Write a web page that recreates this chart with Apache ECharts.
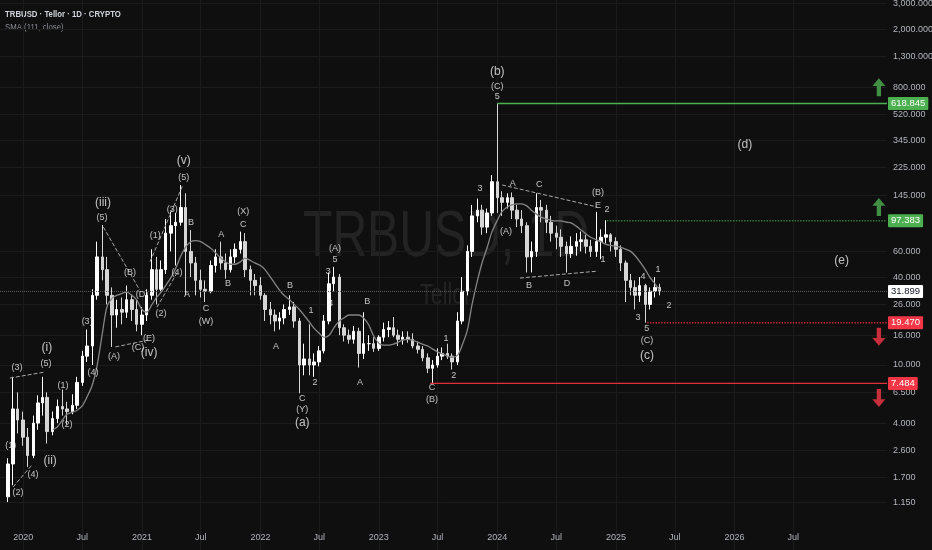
<!DOCTYPE html>
<html><head><meta charset="utf-8">
<script src="https://cdn.jsdelivr.net/npm/echarts@6/dist/echarts.min.js"></script>
<style>html,body{margin:0;padding:0;background:#0f0f0f}#c{width:932px;height:550px}</style>
</head><body><div id="c"></div>
<script>
const FONT = '"Liberation Sans",Arial,sans-serif';

const dates = ['2019-11-15','2019-12-01','2019-12-15',
'2020-01-01','2020-01-15','2020-02-01','2020-02-15','2020-03-01','2020-03-15','2020-04-01','2020-04-15','2020-05-01','2020-05-15','2020-06-01','2020-06-15','2020-07-01','2020-07-15','2020-08-01','2020-08-15','2020-09-01','2020-09-15','2020-10-01','2020-10-15','2020-11-01','2020-11-15','2020-12-01','2020-12-15',
'2021-01-01','2021-01-15','2021-02-01','2021-02-15','2021-03-01','2021-03-15','2021-04-01','2021-04-15','2021-05-01','2021-05-15','2021-06-01','2021-06-15','2021-07-01','2021-07-15','2021-08-01','2021-08-15','2021-09-01','2021-09-15','2021-10-01','2021-10-15','2021-11-01','2021-11-15','2021-12-01','2021-12-15',
'2022-01-01','2022-01-15','2022-02-01','2022-02-15','2022-03-01','2022-03-15','2022-04-01','2022-04-15','2022-05-01','2022-05-15','2022-06-01','2022-06-15','2022-07-01','2022-07-15','2022-08-01','2022-08-15','2022-09-01','2022-09-15','2022-10-01','2022-10-15','2022-11-01','2022-11-15','2022-12-01','2022-12-15',
'2023-01-01','2023-01-15','2023-02-01','2023-02-15','2023-03-01','2023-03-15','2023-04-01','2023-04-15','2023-05-01','2023-05-15','2023-06-01','2023-06-15','2023-07-01','2023-07-15','2023-08-01','2023-08-15','2023-09-01','2023-09-15','2023-10-01','2023-10-15','2023-11-01','2023-11-15','2023-12-01','2023-12-15',
'2024-01-01','2024-01-15','2024-02-01','2024-02-15','2024-03-01','2024-03-15','2024-04-01','2024-04-15','2024-05-01','2024-05-15','2024-06-01','2024-06-15','2024-07-01','2024-07-15','2024-08-01','2024-08-15','2024-09-01','2024-09-15','2024-10-01','2024-10-15','2024-11-01','2024-11-15','2024-12-01','2024-12-15',
'2025-01-01','2025-01-15','2025-02-01','2025-02-15','2025-03-01','2025-03-15','2025-04-01','2025-04-15','2025-05-01','2025-05-15'];

const opens = [1.25,2.1,5.0,
4.2,3.2,2.4,4.0,5.5,6.0,3.5,4.3,5.2,5.0,4.8,5.3,7.6,11.5,13.5,30,55,45,30,22,24,23,28,24,
19,22,30,45,33,45,80,90,95,120,60,50,38,33,32,48,55,50,45,55,62,70,45,38,
35,30,24,22,20,21,24,25,20,10,11,10,10.5,12.5,20,36,40,18,16,15,17,12,14,14,
13,15.5,17.5,18,16,15,15.5,15,13.5,12.8,11.2,9.5,10,11.5,12,11.5,10.5,20,32,60,105,115,88,110,
180,140,130,140,115,100,90,55,60,120,115,95,80,75,65,58,65,70,72,65,60,70,75,78,
70,62,50,38,34,30,35,26,32,34];

const highs = [2.3,8.3,6.5,
4.8,3.7,4.5,6.2,8.3,6.5,4.8,5.8,6.8,5.6,6.3,8.3,12.5,17.5,33,70,91,55,34,28,29,35,30,28,
25,33,62,55,52,100,112,110,171,150,84,55,45,38,52,62,70,58,62,68,82,80,48,42,
40,31,27,24,23,26,30,27,21,14,19,12,13.5,22,43,47,42,19,17.5,18.5,18,23,16,15.5,
16,19.5,20,21.3,17.5,17,17,16.5,14.5,13.5,12,10.8,13,13.2,14,12,23,40,66,125,138,125,118,200,
619,155,150,152,125,115,95,70,150,135,125,105,90,85,70,76,80,82,78,72,112,85,98,80,
75,66,52,42,38,40,36,34,40,36];

const lows = [1.15,1.5,3.4,
2.8,2.0,2.3,3.6,4.5,2.9,3.3,4.0,4.5,3.9,4.6,5.0,7.2,10.5,10,28,38,26,13.3,18,19,21,20,17,
16,20,28,26,31,42,60,48,90,30,40,30,29,27,31,43,45,39,43,50,58,40,30,30,
28,20,19,17,17.5,19,22,18,6.4,8.5,8.5,8.3,9.8,12,19,32,16,14.5,14,14,9.6,11,12.5,12.3,
12.5,14.5,15.5,15.5,13.5,13.8,14.2,13,12,10.6,8.8,7.5,9.6,10.8,11,9.3,10,19,30,55,95,78,80,105,
110,105,118,100,88,80,43,43,55,95,80,70,62,55,43,54,56,60,58,55,55,53,68,60,
55,44,27,30,24,27,19.5,24,29,30];

const closes = [2.1,5.0,4.2,
3.2,2.4,4.0,5.5,6.0,3.5,4.3,5.2,5.0,4.8,5.3,7.6,11.5,13.5,30,55,45,30,22,24,23,28,24,19,
22,30,45,33,45,80,90,95,120,60,50,38,33,32,48,55,50,45,55,62,70,45,38,35,
30,24,22,20,21,24,25,20,10,11,10,10.5,12.5,20,36,40,18,16,15,17,12,14,14,13,
15.5,17.5,18,16,15,15.5,15,13.5,12.8,11.2,9.5,10,11.5,12,11.5,10.5,20,32,60,105,115,88,110,180,
140,130,140,115,100,90,55,60,120,115,95,80,75,65,58,65,70,72,65,60,70,75,78,70,
62,50,38,34,30,35,26,32,34,31.899];

const smaValues = [null,null,null,
null,null,null,null,null,null,3.6,3.76,4.2,4.6,4.75,4.9,5.25,6.0,7.3,9.7,16.5,25,28.7,30,31,31.6,30,28,
24,23,26,29,31.6,35,40,46,56,64,70,71,70,67,63,59,54,51,49,49,51,54,52,50,
48,45,40,36,32.6,30,28,26,24,22,19.7,17.9,16.5,15.5,16,17.9,20,21,22,22,22,21,18.8,16,
14.1,13.7,13.7,13.9,14.3,14.8,15,14.8,14.3,13.9,13.5,12.9,12.3,11.9,11.5,11.3,11.7,13.7,17.4,25.8,38,50,64,81,
98,112,121,125,127,127,123,115,108,103,100,98,97,97,95,94,89,84,79,75,72,70,67,66,
65,64,62,60,56,51,45,40,36,32.6];

const yTickValues = [1.15,1.7,2.6,4,6.5,10,16,26,40,60,145,225,345,520,800,1300,2000,3000];
const xTickDates = ['2020-01-01','2020-07-01','2021-01-01','2021-07-01','2022-01-01','2022-07-01','2023-01-01','2023-07-01','2024-01-01','2024-07-01','2025-01-01','2025-07-01','2026-01-01','2026-07-01'];

const annDates = ['2019-11-24','2019-12-16','2019-12-13','2020-01-31','2020-03-11','2020-03-14','2020-03-24','2020-05-03','2020-05-15','2020-07-16','2020-08-03','2020-08-31','2020-09-03','2020-10-07','2020-11-25','2020-12-20','2021-01-01','2021-01-23','2021-01-23','2021-02-11','2021-03-01','2021-04-04','2021-04-19','2021-05-10','2021-05-10','2021-05-20','2021-06-01','2021-07-17','2021-07-17','2021-09-02','2021-09-23','2021-11-09','2021-11-09','2022-02-18','2022-04-02','2022-06-06','2022-05-10','2022-05-10','2022-05-10','2022-06-18','2022-07-29','2022-08-06','2022-08-19','2022-08-19','2022-11-04','2022-11-26','2023-07-27','2023-06-14','2023-06-14','2023-08-20','2023-11-09','2024-01-01','2024-01-01','2024-01-01','2024-02-18','2024-01-28','2024-04-08','2024-05-09','2024-08-03','2024-11-06','2024-11-06','2024-11-22','2024-12-04','2025-03-10','2025-03-25','2025-04-06','2025-04-06','2025-04-06','2025-05-10','2025-06-13','2026-02-02','2026-11-27'];
const annValues = [2.79,1.33,9.54,1.79,10.2,13.1,2.2,7.29,3.94,19.7,8.82,103,129,11.35,42.7,13.1,30.6,15.3,12.1,76.5,22.7,117,42.7,191,249,30.2,93.9,24.5,19.7,77.7,36.4,112,91,13.3,34.8,23.8,5.94,4.92,4.01,7.53,43.4,26.2,53.2,62.3,7.53,27.4,15.3,6.96,5.76,8.41,163,1016,802,685,176,81.5,34.8,171,35.9,123,153,53.2,117,21,40.1,17.9,14.6,11.5,44.8,25.4,321,51.5];
const annTexts = ['(1)','(2)','(3)','(4)','(5)','(i)','(ii)','(1)','(2)','(3)','(4)','(5)','(iii)','(A)','(B)','(C)','(D)','(E)','(iv)','(1)','(2)','(3)','(4)','(5)','(v)','A','B','C','(W)','A','B','(X)','C','A','B','1','C','(Y)','(a)','2','3','4','5','(A)','A','B','1','C','(B)','2','3','(b)','(C)','5','A','(A)','B','C','D','E','(B)','1','2','3','4','5','(C)','(c)','1','2','(d)','(e)'];
const bigLabels = ['(i)','(ii)','(iii)','(iv)','(v)','(a)','(b)','(c)','(d)','(e)'];

const trendFrom = [['2019-11-21',8.14],['2019-12-01',1.46],['2020-09-04',88],['2020-10-11',13.3],['2021-01-26',51],['2021-02-16',24.9],['2024-01-16',171],['2024-03-11',39.4]];
const trendTo = [['2020-03-08',8.95],['2020-01-28',2.07],['2020-12-25',32.6],['2021-01-20',14.8],['2021-05-07',171],['2021-04-19',42.7],['2024-11-03',121],['2024-11-03',43.9]];

const levelValues = [618.845, 97.383, 31.899, 19.47, 7.484];
const levelStarts = ['2024-01-01','2024-12-04','2019-10-21','2025-04-07','2023-06-08'];

const arrowDates = ['2027-03-22','2027-03-22','2027-03-22','2027-03-22'];
const arrowValues = [800, 121, 15.6, 5.94];
const arrowUp = [true, true, false, false];

function ts(s){const p=s.split('-').map(Number);return Date.UTC(p[0],p[1]-1,p[2]);}
const DAY = 864e5, T0 = ts('2020-01-01');
const X_MIN = T0 - 71.5*DAY, X_MAX = T0 + 2662*DAY;

const candleData = dates.map((d,i)=>[ts(d), opens[i], closes[i], lows[i], highs[i]]);
const smaData = dates.map((d,i)=>[ts(d), smaValues[i]]).filter(p=>p[1]!=null);
const annData = annDates.map((d,i)=>({
  value:[ts(d), annValues[i]],
  label:{formatter: annTexts[i], fontSize: bigLabels.includes(annTexts[i]) ? 12 : 9}
}));

const levelStyles = [
  {color:'#4caf50', type:'solid', width:1.4, bg:'#4caf50', fg:'#ffffff'},
  {color:'#357a38', type:'dotted', width:1.4, bg:'#4caf50', fg:'#ffffff'},
  {color:'#5d5f66', type:'dotted', width:1, bg:'#ffffff', fg:'#131722'},
  {color:'#c62833', type:'dotted', width:1.4, bg:'#f23645', fg:'#ffffff'},
  {color:'#e0303c', type:'solid', width:1.4, bg:'#f23645', fg:'#ffffff'}
];
const levelSeries = levelValues.map((v,i)=>{
  const st = levelStyles[i];
  return {
    type:'line', name:'level'+i, silent:true, clip:false, z:5,
    data:[[Math.max(ts(levelStarts[i]), X_MIN), v],[X_MAX, v]],
    showSymbol:false, symbol:'none', color: st.color,
    lineStyle:{color: st.color, type: st.type, width: st.width, opacity:1},
    endLabel:{show:true, distance:1, formatter: v.toFixed(3), backgroundColor: st.bg, color: st.fg,
      padding:[2,3,1,3], fontSize:9.5, fontFamily:FONT, borderRadius:1}
  };
});

const trendLines = trendFrom.map((f,i)=>[{coord:[ts(f[0]), f[1]]},{coord:[ts(trendTo[i][0]), trendTo[i][1]]}]);

const arrowUpPath = 'path://M6,0 L12,7 L8,7 L8,16 L4,16 L4,7 L0,7 Z';
const arrowData = arrowDates.map((d,i)=>({
  value:[ts(d), arrowValues[i]],
  symbolRotate: arrowUp[i] ? 0 : 180,
  itemStyle:{color: arrowUp[i] ? '#4caf50' : '#f23645'}
}));

const xTicks = xTickDates.map(ts);
const chart = echarts.init(document.getElementById('c'));
chart.setOption({
  backgroundColor: '#0f0f0f',
  animation: false,
  textStyle: {fontFamily: FONT},
  grid: {left:0, right:45, top:0, bottom:0, containLabel:false, outerBoundsMode:'none'},
  graphic: [
    {type:'text', x:303, y:206, scaleX:0.74, z:-1, silent:true,
      style:{text:'TRBUSD, 1D', font:'65px "Liberation Sans",Arial,sans-serif', fill:'rgba(255,255,255,0.085)', textVerticalAlign:'top'}},
    {type:'text', x:420, y:281, scaleX:0.74, z:-1, silent:true,
      style:{text:'Tellor', font:'29px "Liberation Sans",Arial,sans-serif', fill:'rgba(255,255,255,0.085)', textVerticalAlign:'top'}},
    {type:'text', x:5, y:9, scaleX:0.82,
      style:{text:'TRBUSD · Tellor · 1D · CRYPTO', font:'bold 9.5px '+FONT, fill:'#d1d4dc', textVerticalAlign:'top'}},
    {type:'text', x:5, y:22, scaleX:0.82,
      style:{text:'SMA (111, close)', font:'9.5px '+FONT, fill:'#8a8d96', textVerticalAlign:'top'}}
  ],
  xAxis: {
    type:'value', min:X_MIN, max:X_MAX,
    axisLine:{show:false}, axisTick:{show:false, customValues: xTicks},
    splitLine:{show:true, lineStyle:{color:'#1b1b1b', width:1}, customValues: xTicks},
    axisLabel:{inside:true, margin:8, color:'#b2b5be', fontSize:9, fontFamily:FONT,
      customValues: xTicks,
      formatter: v => { const d = new Date(v); return d.getUTCMonth()===0 ? String(d.getUTCFullYear()) : 'Jul'; }}
  },
  yAxis: {
    type:'log', logBase:10, min:0.5406, max:3162.28, position:'right',
    axisLine:{show:false}, axisTick:{show:false, customValues: yTickValues},
    splitLine:{show:true, lineStyle:{color:'#1b1b1b', width:1}, customValues: yTickValues},
    axisLabel:{margin:6, color:'#b2b5be', fontSize:9, fontFamily:FONT, customValues: yTickValues,
      formatter: v => Number(v).toLocaleString('en-US',{minimumFractionDigits:3, maximumFractionDigits:3})}
  },
  series: [
    {
      type:'candlestick', name:'TRBUSD', data: candleData, encode:{x:0, y:[1,2,3,4]},
      barWidth: 3,
      itemStyle:{color:'#ffffff', color0:'#d6d6d6', borderColor:'#ffffff', borderColor0:'#d6d6d6', borderWidth:1},
      z: 3
    },
    {
      type:'line', name:'SMA', data: smaData, showSymbol:false, symbol:'none', smooth:0.3,
      lineStyle:{color:'#858585', width:1.3}, z: 4
    },
    ...levelSeries,
    {
      type:'scatter', name:'waves', data: annData, symbolSize: 0.1, itemStyle:{color:'rgba(0,0,0,0)'},
      label:{show:true, position:'inside', color:'#ececec', fontFamily:FONT},
      z: 6,
      markLine: {silent:true, symbol:['none','none'], data: trendLines,
        lineStyle:{color:'#a8a8a8', type:'dashed', width:1}, label:{show:false}, animation:false}
    },
    {
      type:'scatter', name:'arrows', data: arrowData, symbol: arrowUpPath, symbolSize:[13,18], z: 7
    }
  ]
});
</script>
</body></html>
